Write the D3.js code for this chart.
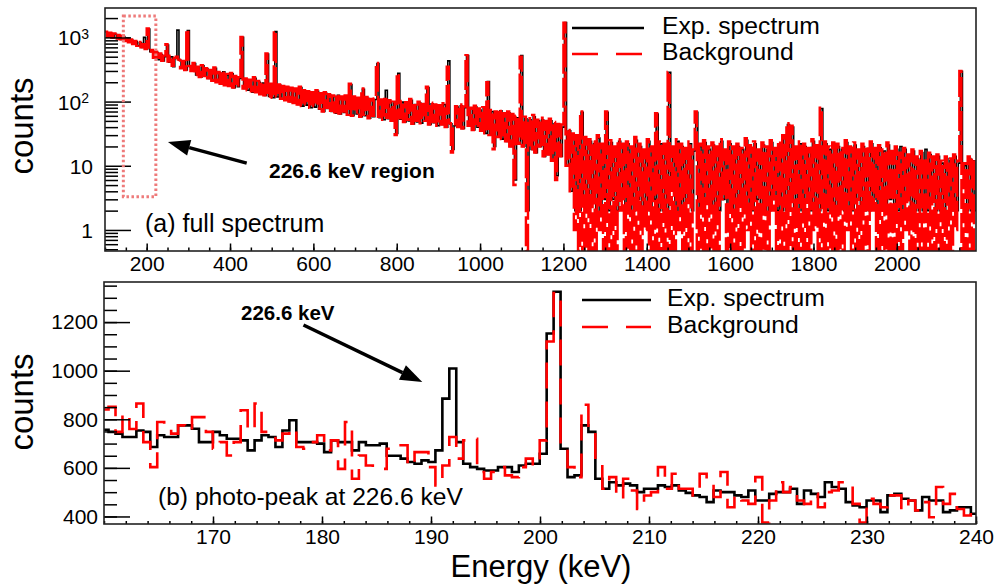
<!DOCTYPE html>
<html>
<head>
<meta charset="utf-8">
<title>Exp. spectrum and background</title>
<script src="https://cdn.jsdelivr.net/npm/d3@7"></script>
<style>
  body { margin: 0; background: white; }
  svg { display: block; background: white; font-family: "Liberation Sans", Arial, Helvetica, sans-serif; }
</style>
</head>
<body>
<script>
// ---- (a) full spectrum: 5 keV bins ----
let fullBgStart = 100
let fullExpStart = 102.5
let fullBinWidth = 5
let fullBackground = [
  1230, 1020, 1180, 990, 1150, 960, 1090, 930, 1060, 880,
  1010, 840, 930, 790, 880, 740, 850, 700, 780, 660,
  1380, 600, 640, 480, 600, 450, 560, 430, 520, 780,
  420, 520, 360, 480, 500, 450, 330, 430, 310, 1300,
  360, 300, 400, 260, 350, 240, 370, 250, 330, 230,
  310, 210, 340, 200, 290, 190, 300, 180, 270, 175,
  280, 165, 250, 170, 240, 1020, 160, 230, 150, 220,
  145, 240, 140, 210, 130, 200, 125, 560, 120, 190,
  115, 1250, 120, 185, 110, 175, 105, 170, 100, 165,
  95, 160, 90, 170, 85, 150, 90, 145, 80, 140,
  85, 150, 78, 135, 70, 140, 80, 130, 72, 125,
  68, 130, 65, 120, 70, 125, 62, 190, 60, 120,
  66, 115, 58, 160, 62, 118, 55, 110, 60, 112,
  400, 58, 108, 52, 110, 56, 105, 50, 100, 30,
  270, 55, 102, 48, 98, 52, 110, 45, 95, 50,
  100, 46, 92, 50, 170, 44, 96, 48, 90, 42,
  88, 44, 94, 40, 350, 46, 16, 42, 85, 40,
  90, 38, 84, 530, 42, 80, 36, 86, 40, 78,
  35, 82, 32, 200, 30, 74, 18, 70, 28, 76,
  26, 66, 24, 70, 20, 64, 5, 60, 22, 500,
  20, 58, 0, 55, 18, 62, 16, 52, 20, 56,
  14, 50, 15, 54, 12, 48, 6, 45, 14, 44,
  1700, 10, 38, 4, 32, 1, 30, 0, 70, 0,
  28, 0, 26, 0, 24, 0, 30, 1, 22, 0,
  70, 0, 25, 0, 20, 0, 26, 2, 22, 0,
  24, 0, 20, 0, 28, 0, 22, 0, 18, 1,
  26, 0, 20, 0, 66, 0, 24, 0, 22, 0,
  290, 0, 20, 0, 26, 1, 22, 0, 19, 0,
  24, 0, 18, 70, 0, 22, 0, 25, 0, 20,
  0, 23, 0, 20, 0, 26, 3, 18, 0, 24,
  0, 20, 0, 22, 0, 19, 0, 27, 1, 21,
  0, 24, 0, 18, 0, 23, 0, 20, 0, 25,
  2, 19, 0, 24, 0, 30, 0, 46, 0, 42,
  0, 20, 0, 24, 0, 22, 0, 19, 0, 26,
  1, 21, 0, 80, 0, 24, 0, 20, 0, 23,
  0, 22, 0, 19, 0, 25, 1, 20, 0, 23,
  0, 18, 0, 22, 0, 20, 0, 24, 2, 19,
  0, 21, 0, 18, 0, 23, 0, 17, 0, 20,
  0, 16, 0, 19, 1, 15, 0, 18, 0, 14,
  0, 17, 0, 13, 0, 16, 0, 14, 0, 15,
  0, 12, 0, 14, 0, 13, 0, 15, 1, 12,
  300, 0, 11, 0, 14, 0, 13, 0
]
let fullExperiment = [
  1180, 1020, 1150, 990, 1120, 960, 1060, 930, 1030, 880,
  980, 840, 900, 790, 860, 740, 820, 700, 1000, 660,
  1350, 600, 620, 480, 580, 450, 540, 430, 500, 760,
  410, 500, 350, 470, 1300, 440, 330, 420, 310, 1280,
  350, 300, 390, 260, 340, 240, 360, 250, 320, 230,
  300, 210, 330, 200, 280, 190, 290, 180, 260, 175,
  270, 165, 240, 170, 230, 1000, 160, 220, 150, 210,
  140, 230, 140, 200, 130, 195, 125, 550, 120, 185,
  115, 1230, 118, 180, 110, 170, 105, 165, 100, 160,
  95, 155, 90, 165, 85, 145, 88, 140, 80, 135,
  82, 145, 76, 130, 70, 135, 78, 125, 70, 120,
  66, 125, 64, 115, 68, 120, 62, 185, 60, 115,
  64, 110, 58, 155, 60, 112, 55, 105, 58, 108,
  390, 56, 104, 52, 150, 54, 100, 50, 96, 32,
  275, 53, 98, 48, 94, 50, 105, 45, 90, 48,
  96, 46, 88, 50, 165, 44, 92, 47, 86, 42,
  84, 44, 90, 40, 430, 45, 18, 42, 82, 40,
  86, 38, 80, 520, 42, 76, 36, 82, 40, 74,
  36, 78, 32, 205, 30, 70, 20, 66, 28, 72,
  26, 62, 24, 66, 20, 60, 6, 56, 22, 520,
  20, 54, 2, 52, 18, 58, 16, 50, 20, 52,
  14, 48, 15, 50, 12, 45, 7, 42, 14, 40,
  1700, 10, 35, 4, 30, 2, 28, 2, 68, 3,
  25, 2, 24, 3, 22, 2, 27, 2, 20, 3,
  68, 2, 23, 3, 18, 2, 24, 3, 20, 2,
  22, 2, 18, 2, 25, 3, 20, 2, 17, 2,
  24, 2, 18, 3, 64, 2, 22, 2, 20, 2,
  285, 4, 18, 2, 24, 2, 20, 2, 18, 3,
  22, 2, 17, 68, 2, 20, 2, 23, 3, 18,
  2, 21, 2, 18, 2, 24, 3, 17, 2, 22,
  2, 18, 2, 20, 3, 18, 2, 25, 2, 19,
  2, 22, 3, 17, 2, 21, 2, 18, 2, 23,
  3, 18, 2, 22, 2, 28, 2, 44, 3, 40,
  2, 18, 2, 22, 2, 20, 3, 18, 2, 24,
  2, 20, 2, 78, 3, 22, 2, 18, 2, 21,
  2, 20, 3, 18, 2, 23, 2, 18, 2, 21,
  3, 17, 2, 20, 2, 18, 2, 22, 3, 18,
  2, 19, 2, 17, 2, 21, 3, 16, 2, 18,
  2, 20, 2, 18, 3, 14, 2, 17, 2, 13,
  2, 16, 2, 18, 2, 15, 3, 13, 2, 14,
  2, 11, 2, 13, 3, 12, 2, 14, 2, 11,
  295, 9, 10, 2, 13, 2, 12, 2
]

// ---- (b) photo-peak region: 0.638 keV bins starting at 159.78 keV ----
let zoomStart = 159.78
let zoomBinWidth = 0.638
let zoomExperiment = [
  757, 748, 741, 727, 727, 754, 748, 686, 734, 727,
  727, 775, 775, 761, 706, 706, 748, 734, 720, 720,
  713, 672, 713, 734, 727, 686, 754, 796, 706, 706,
  706, 700, 665, 713, 706, 706, 672, 706, 693, 693,
  700, 650, 650, 638, 624, 617, 631, 624, 672, 885,
  1009, 706, 617, 603, 596, 589, 589, 603, 603, 583,
  610, 617, 617, 658, 1153, 1325, 679, 562, 569, 775,
  748, 555, 514, 541, 528, 535, 528, 500, 514, 514,
  528, 521, 528, 507, 497, 487, 480, 459, 507, 500,
  500, 487, 480, 507, 466, 466, 493, 500, 500, 514,
  452, 507, 493, 480, 541, 521, 514, 459, 445, 438,
  466, 466, 418, 487, 493, 473, 466, 425, 480, 466,
  466, 418, 425, 438, 438, 411
]
let zoomBackground = [
  840, 851, 748, 823, 760, 865, 706, 603, 789, 775,
  741, 775, 754, 809, 809, 748, 679, 706, 651, 706,
  837, 754, 865, 748, 741, 713, 741, 761, 686, 679,
  706, 734, 672, 713, 596, 789, 555, 651, 610, 603,
  596, 679, 686, 693, 610, 665, 665, 603, 528, 610,
  727, 638, 713, 720, 583, 555, 583, 603, 569, 562,
  603, 638, 610, 713, 1120, 1320, 679, 603, 562, 860,
  761, 617, 514, 562, 473, 555, 507, 431, 486, 500,
  603, 514, 576, 514, 514, 487, 576, 548, 480, 583,
  438, 487, 466, 452, 562, 375, 466, 541, 500, 521,
  466, 452, 493, 438, 500, 507, 541, 541, 452, 375,
  473, 452, 438, 487, 487, 425, 466, 425, 459, 397,
  521, 452, 493, 431, 404, 418
]

let fullXTicks = [200, 400, 600, 800, 1000, 1200, 1400, 1600, 1800, 2000]
let fullYTicks = [1, 10, 100, 1000]
let zoomXTicks = [170, 180, 190, 200, 210, 220, 230, 240]
let zoomYTicks = [400, 600, 800, 1000, 1200]

let width = 994
let height = 585
let tickFont = 21
let dash = "26,13"
// the full spectrum is so dense that its dash gaps are mostly covered
let denseDash = "30,4"

let svg = d3.select("body").append("svg")
  .attr("width", width)
  .attr("height", height)

let topFrame = {left: 105, right: 976, top: 8, bottom: 251}
let botFrame = {left: 104, right: 976, top: 282, bottom: 524}

let xTop = d3.scaleLinear().domain([100, 2190]).range([topFrame.left, topFrame.right])
let yTop = d3.scaleLog().domain([0.47, 2870]).range([topFrame.bottom, topFrame.top])
let xBot = d3.scaleLinear().domain([160, 240]).range([botFrame.left, botFrame.right])
let yBot = d3.scaleLinear().domain([369, 1365]).range([botFrame.bottom, botFrame.top])

let histPath = (values, start, binW, x, y, floor) => {
  let pts = values.map((v, i) => [start + i * binW, v])
  pts.push([start + values.length * binW, values[values.length - 1]])
  return d3.line()
    .x(d => x(d[0]))
    .y(d => y(Math.max(d[1], floor)))
    .curve(d3.curveStepAfter)(pts)
}

let defs = svg.append("defs")
let addClip = (id, f) => {
  defs.append("clipPath").attr("id", id)
    .append("rect")
    .attr("x", f.left).attr("y", f.top)
    .attr("width", f.right - f.left).attr("height", f.bottom - f.top)
}
addClip("clipTop", topFrame)
addClip("clipBot", botFrame)

let styleAxis = (g) => {
  g.select(".domain").remove()
  g.selectAll("line").attr("stroke", "#000").attr("stroke-width", 1.5)
  g.selectAll("text").attr("font-size", tickFont).attr("fill", "#000")
    .attr("font-family", "Liberation Sans, Arial, sans-serif")
}

// ---------- top panel ----------
let topPlot = svg.append("g").attr("clip-path", "url(#clipTop)")
topPlot.append("path")
  .attr("d", histPath(fullExperiment, fullExpStart, fullBinWidth, xTop, yTop, 0.47))
  .attr("fill", "none").attr("stroke", "#000").attr("stroke-width", 1.6)
topPlot.append("path")
  .attr("d", histPath(fullBackground, fullBgStart, fullBinWidth, xTop, yTop, 0.47))
  .attr("fill", "none").attr("stroke", "#ff0000").attr("stroke-width", 2.4)
  .attr("stroke-dasharray", denseDash)

svg.append("g").attr("transform", `translate(0,${topFrame.bottom})`)
  .call(d3.axisBottom(xTop).tickValues(d3.range(100, 2191, 50)).tickSize(-3.5).tickFormat(""))
  .call(styleAxis)
svg.append("g").attr("transform", `translate(0,${topFrame.bottom})`)
  .call(d3.axisBottom(xTop).tickValues(fullXTicks).tickSize(-7.5).tickPadding(5).tickFormat(d3.format("d")))
  .call(styleAxis)

let logMinor = []
for (let dec of [0.1, 1, 10, 100, 1000]) {
  for (let m = 2; m <= 9; m++) {
    let v = dec * m
    if (v >= 0.47 && v <= 2870) logMinor.push(v)
  }
}
svg.append("g").attr("transform", `translate(${topFrame.left},0)`)
  .call(d3.axisLeft(yTop).tickValues(logMinor).tickSize(-13).tickFormat(""))
  .call(styleAxis)
let topY = svg.append("g").attr("transform", `translate(${topFrame.left},0)`)
  .call(d3.axisLeft(yTop).tickValues(fullYTicks).tickSize(-26).tickPadding(12).tickFormat(""))
  .call(styleAxis)
topY.selectAll(".tick").each(function (d) {
  let t = d3.select(this).append("text")
    .attr("x", d >= 100 ? -16 : -12).attr("dy", "0.36em")
    .attr("text-anchor", "end").attr("font-size", tickFont).attr("fill", "#000")
  if (d >= 100) {
    t.text("10")
    t.append("tspan").attr("dy", "-0.45em").attr("font-size", 14).text(Math.round(Math.log10(d)))
  } else {
    t.text(d)
  }
})

svg.append("rect")
  .attr("x", topFrame.left).attr("y", topFrame.top)
  .attr("width", topFrame.right - topFrame.left).attr("height", topFrame.bottom - topFrame.top)
  .attr("fill", "none").attr("stroke", "#222").attr("stroke-width", 1.6)

// ---------- bottom panel ----------
let botPlot = svg.append("g").attr("clip-path", "url(#clipBot)")
botPlot.append("path")
  .attr("d", histPath(zoomExperiment, zoomStart, zoomBinWidth, xBot, yBot, 0))
  .attr("fill", "none").attr("stroke", "#000").attr("stroke-width", 2.6)
botPlot.append("path")
  .attr("d", histPath(zoomBackground, zoomStart, zoomBinWidth, xBot, yBot, 0))
  .attr("fill", "none").attr("stroke", "#ff0000").attr("stroke-width", 2.6)
  .attr("stroke-dasharray", dash)

svg.append("g").attr("transform", `translate(0,${botFrame.bottom})`)
  .call(d3.axisBottom(xBot).tickValues(d3.range(160, 241, 2)).tickSize(-3).tickFormat(""))
  .call(styleAxis)
svg.append("g").attr("transform", `translate(0,${botFrame.bottom})`)
  .call(d3.axisBottom(xBot).tickValues(zoomXTicks).tickSize(-7.5).tickPadding(5).tickFormat(d3.format("d")))
  .call(styleAxis)
svg.append("g").attr("transform", `translate(${botFrame.left},0)`)
  .call(d3.axisLeft(yBot).tickValues(d3.range(400, 1365, 50)).tickSize(-13).tickFormat(""))
  .call(styleAxis)
svg.append("g").attr("transform", `translate(${botFrame.left},0)`)
  .call(d3.axisLeft(yBot).tickValues(zoomYTicks).tickSize(-26).tickPadding(6).tickFormat(d3.format("d")))
  .call(styleAxis)

svg.append("rect")
  .attr("x", botFrame.left).attr("y", botFrame.top)
  .attr("width", botFrame.right - botFrame.left).attr("height", botFrame.bottom - botFrame.top)
  .attr("fill", "none").attr("stroke", "#222").attr("stroke-width", 1.6)

// ---------- axis titles ----------
svg.append("text").attr("transform", "translate(33,126) rotate(-90)")
  .attr("text-anchor", "middle").attr("font-size", 33).text("counts")
svg.append("text").attr("transform", "translate(33,402) rotate(-90)")
  .attr("text-anchor", "middle").attr("font-size", 33).text("counts")
svg.append("text").attr("x", 541).attr("y", 577)
  .attr("text-anchor", "middle").attr("font-size", 31).text("Energy (keV)")

// ---------- legends ----------
let legend = (x0, x1, tx, y1, y2) => {
  svg.append("line").attr("x1", x0).attr("x2", x1).attr("y1", y1).attr("y2", y1)
    .attr("stroke", "#000").attr("stroke-width", 2.6)
  svg.append("line").attr("x1", x0).attr("x2", x1).attr("y1", y2).attr("y2", y2)
    .attr("stroke", "#ff0000").attr("stroke-width", 2.6).attr("stroke-dasharray", "26,18")
  svg.append("text").attr("x", tx).attr("y", y1 + 6).attr("font-size", 24.7).text("Exp. spectrum")
  svg.append("text").attr("x", tx).attr("y", y2 + 6).attr("font-size", 24.7).text("Background")
}
legend(572, 644, 662, 28, 54)
legend(582, 651, 667, 300, 327)

// ---------- annotations ----------
svg.append("text").attr("x", 145).attr("y", 232).attr("font-size", 25).text("(a) full spectrum")
svg.append("text").attr("x", 158).attr("y", 505).attr("font-size", 24.6).text("(b) photo-peak at 226.6 keV")

svg.append("rect")
  .attr("x", xTop(144)).attr("y", yTop(2150))
  .attr("width", xTop(222) - xTop(144)).attr("height", yTop(3.3) - yTop(2150))
  .attr("fill", "none").attr("stroke", "#ee7a7a").attr("stroke-width", 3)
  .attr("stroke-dasharray", "2.5,2.5")

let arrow = (x0, y0, x1, y1) => {
  let ang = Math.atan2(y1 - y0, x1 - x0)
  let L = 22, Wd = 8
  let bx = x1 - L * Math.cos(ang), by = y1 - L * Math.sin(ang)
  svg.append("line").attr("x1", x0).attr("y1", y0).attr("x2", bx).attr("y2", by)
    .attr("stroke", "#000").attr("stroke-width", 3.5)
  let px = -Math.sin(ang) * Wd, py = Math.cos(ang) * Wd
  svg.append("path")
    .attr("d", `M${x1},${y1}L${bx + px},${by + py}L${bx - px},${by - py}Z`)
    .attr("fill", "#000")
}
arrow(xTop(440), yTop(11), xTop(251), yTop(23.5))
arrow(xBot(178.3), yBot(1188), xBot(189.2), yBot(953))

svg.append("text").attr("x", 269).attr("y", 178).attr("font-size", 21).attr("font-weight", "bold")
  .text("226.6 keV region")
svg.append("text").attr("x", 241).attr("y", 320).attr("font-size", 20.5).attr("font-weight", "bold")
  .text("226.6 keV")
</script>
</body>
</html>
